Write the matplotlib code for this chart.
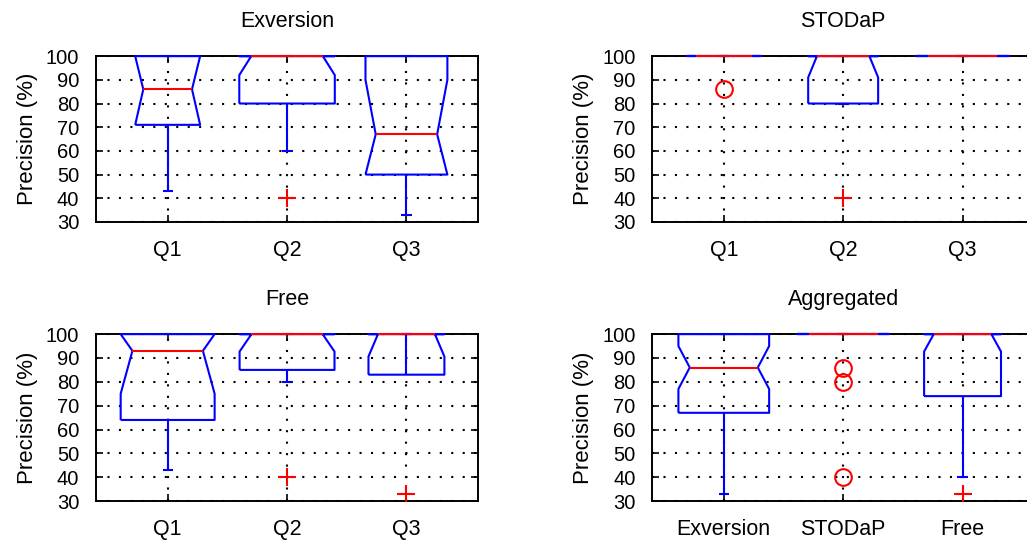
import matplotlib
matplotlib.use("Agg")
import matplotlib.pyplot as plt

plt.rcParams['font.family'] = ['Liberation Sans', 'DejaVu Sans']
plt.rcParams['font.size'] = 14.5

# === DATA ===
TITLES = ["Exversion", "STODaP", "Free", "Aggregated"]
QUESTIONS = ["Q1", "Q2", "Q3"]
METHODS = ["Exversion", "STODaP", "Free"]

# Exversion
exv_med = [86, 100, 67]
exv_q1 = [71, 80, 50]
exv_q3 = [100, 100, 100]
exv_whislo = [43, 60, 33]
exv_whishi = [100, 100, 100]
exv_cilo = [71, 92, 50]
exv_cihi = [100, 100, 90]
exv_fliers = [[], [40], []]

# STODaP
sto_med = [100, 100, 100]
sto_q1 = [100, 80, 100]
sto_q3 = [100, 100, 100]
sto_whislo = [100, 80, 100]
sto_whishi = [100, 100, 100]
sto_cilo = [100, 91, 100]
sto_cihi = [100, 100, 100]
sto_fliers = [[86], [40], []]

# Free
free_med = [93, 100, 100]
free_q1 = [64, 85, 83]
free_q3 = [100, 100, 100]
free_whislo = [43, 80, 100]
free_whishi = [100, 100, 100]
free_cilo = [75, 92.7, 90.6]
free_cihi = [100, 100, 100]
free_fliers = [[], [40], [33]]

# Aggregated
agg_med = [86, 100, 100]
agg_q1 = [67, 100, 74]
agg_q3 = [100, 100, 100]
agg_whislo = [33, 100, 40]
agg_whishi = [100, 100, 100]
agg_cilo = [77, 100, 92.7]
agg_cihi = [95, 100, 100]
agg_fliers = [[], [86, 80, 40], [33]]

# === STYLE ===
BOX_WIDTHS = [
    [0.544, 0.80, 0.686],
    [0.62, 0.586, 0.78],
    [0.787, 0.795, 0.636],
    [0.76, 0.77, 0.644],
]
FLIER_MARKERS = [
    ["+", "+", "+"],
    ["o", "+", "o"],
    ["+", "+", "+"],
    ["+", "o", "+"],
]
AX_RECTS = [
    (0.0935, 0.589, 0.372, 0.307),
    (0.635, 0.589, 0.372, 0.307),
    (0.0935, 0.0722, 0.372, 0.309),
    (0.635, 0.0722, 0.372, 0.309),
]
BLUE = (0, 0, 1)
RED = (1, 0, 0)
LW = 1.5
CAP_W = 0.085
NOTCH = 0.375  # half-width of notch relative to box width


def draw_box(ax, pos, w, q1, med, q3, lo, hi, cilo, cihi, fliers, marker):
    bl, br = pos - w / 2, pos + w / 2
    nl, nr = pos - w * NOTCH, pos + w * NOTCH
    kw = dict(lw=LW, zorder=3, clip_on=False, solid_capstyle="butt")
    # whiskers + caps
    ax.plot([pos, pos], [q1, lo], color=BLUE, **kw)
    ax.plot([pos, pos], [q3, hi], color=BLUE, **kw)
    ax.plot([pos - CAP_W / 2, pos + CAP_W / 2], [lo, lo], color=BLUE, **kw)
    ax.plot([pos - CAP_W / 2, pos + CAP_W / 2], [hi, hi], color=BLUE, **kw)
    # notched box
    xs = [bl, br, br, nr, br, br, bl, bl, nl, bl, bl]
    ys = [q1, q1, cilo, med, cihi, q3, q3, cihi, med, cilo, q1]
    ax.plot(xs, ys, color=BLUE, **kw)
    ax.plot([nl, nr], [med, med], color=RED, **kw)
    for f in fliers:
        if marker == "o":
            ax.plot(pos, f, "o", mfc="none", mec=RED, ms=12, mew=1.5, zorder=4)
        else:
            ax.plot(pos, f, "+", color=RED, ms=13, mew=1.5, zorder=4)


panels = [
    (exv_q1, exv_med, exv_q3, exv_whislo, exv_whishi, exv_cilo, exv_cihi, exv_fliers, QUESTIONS),
    (sto_q1, sto_med, sto_q3, sto_whislo, sto_whishi, sto_cilo, sto_cihi, sto_fliers, QUESTIONS),
    (free_q1, free_med, free_q3, free_whislo, free_whishi, free_cilo, free_cihi, free_fliers, QUESTIONS),
    (agg_q1, agg_med, agg_q3, agg_whislo, agg_whishi, agg_cilo, agg_cihi, agg_fliers, METHODS),
]

fig = plt.figure(figsize=(10.27, 5.4), dpi=100)

for i, (q1, med, q3, lo, hi, cilo, cihi, fl, labels) in enumerate(panels):
    ax = fig.add_axes(AX_RECTS[i])
    positions = list(range(1, len(labels) + 1))
    for j, pos in enumerate(positions):
        draw_box(ax, pos, BOX_WIDTHS[i][j], q1[j], med[j], q3[j], lo[j], hi[j],
                 cilo[j], cihi[j], fl[j], FLIER_MARKERS[i][j])
    ax.set_xlim(0.4, 3.6)
    ax.set_ylim(30, 100)
    ax.set_yticks(range(30, 101, 10))
    ax.set_xticks(positions)
    ax.set_xticklabels(labels, fontsize=15.5)
    ax.set_ylabel("Precision (%)", labelpad=6, fontsize=16)
    ax.set_title(TITLES[i], pad=21, fontsize=15.5)
    ax.grid(True, color="black", linestyle=(0, (1, 4.5)), linewidth=1.5, zorder=1)
    ax.set_axisbelow(True)
    ax.tick_params(direction="in", length=5, width=1.2, top=True, right=True)
    ax.tick_params(axis="y", pad=12)
    ax.tick_params(axis="x", pad=13)
    for sp in ax.spines.values():
        sp.set_linewidth(1.4)

plt.savefig("out.png", dpi=100)
plt.close()
